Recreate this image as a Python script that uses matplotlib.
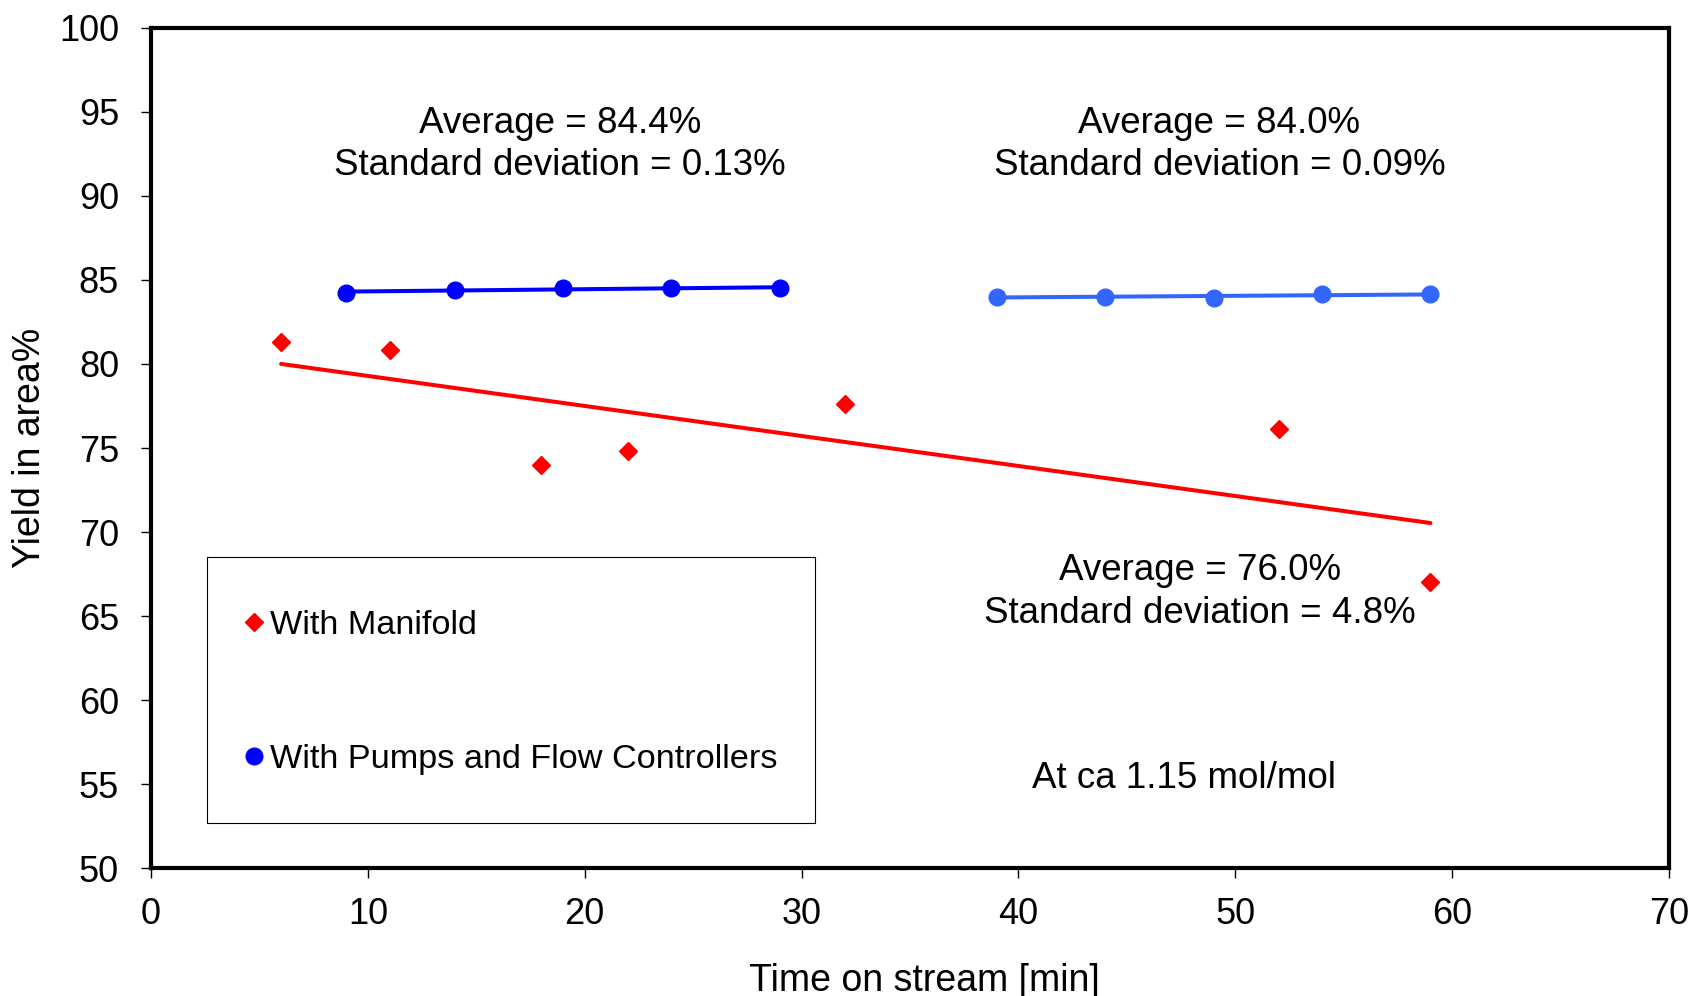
import numpy as np
import matplotlib.pyplot as plt
from matplotlib.patches import Rectangle

plt.rcParams['font.family'] = ['Liberation Sans', 'DejaVu Sans']

# time on stream [min] and yield [area%]
manifold_t = [6, 11, 18, 22, 32, 52, 59]
manifold_y = [81.3, 80.85, 74.0, 74.85, 77.6, 76.15, 67.05]

pumps1_t = [9, 14, 19, 24, 29]
pumps1_y = [84.25, 84.4, 84.5, 84.55, 84.5]

pumps2_t = [39, 44, 49, 54, 59]
pumps2_y = [84.0, 84.0, 83.95, 84.15, 84.15]

red = '#FF0000'
blue = '#0000FF'
light_blue = '#3366FF'


def trend(ax, t, y, color):
    k, b = np.polyfit(t, y, 1)
    xs = np.array([min(t), max(t)])
    ax.plot(xs, k * xs + b, color=color, lw=2.9, solid_capstyle='round', zorder=2)


fig = plt.figure(figsize=(16.92, 9.96), dpi=100)
ax = fig.add_axes([151 / 1692, 1 - 868 / 996, 1518 / 1692, 840 / 996])

trend(ax, manifold_t, manifold_y, red)
trend(ax, pumps1_t, pumps1_y, blue)
trend(ax, pumps2_t, pumps2_y, light_blue)

ax.plot(manifold_t, manifold_y, 'D', color=red, ms=9, ls='none', label='With Manifold', zorder=3)
ax.plot(pumps1_t, pumps1_y, 'o', color=blue, ms=12, ls='none',
        label='With Pumps and Flow Controllers', zorder=3)
ax.plot(pumps2_t, pumps2_y, 'o', color=light_blue, ms=12, ls='none', zorder=3)

ax.set_xlim(0, 70)
ax.set_ylim(50, 100)
ax.set_xticks(range(0, 71, 10))
ax.set_yticks(range(50, 101, 5))
for s in ax.spines.values():
    s.set_linewidth(3)
ax.tick_params(axis='both', direction='out', length=7, width=1, labelsize=26)
ax.tick_params(axis='y', pad=16)
ax.tick_params(axis='x', pad=14)

ax.set_xlabel('Time on stream [min]', fontsize=27, labelpad=22)
ax.xaxis.label.set_x(0.5094)
ax.set_ylabel('Yield in area%', fontsize=27, labelpad=8)

txt = dict(ha='center', va='center', fontsize=26.5, linespacing=1.28)
ax.text(18.86, 93.06, 'Average = 84.4%\nStandard deviation = 0.13%', **txt)
ax.text(49.27, 93.06, 'Average = 84.0%\nStandard deviation = 0.09%', **txt)
ax.text(48.37, 66.42, 'Average = 76.0%\nStandard deviation = 4.8%', **txt)
ax.text(47.63, 55.33, 'At ca 1.15 mol/mol', **txt)

# legend box
ax.add_patch(Rectangle((0.0369, 0.0536), 0.4005, 0.3167, transform=ax.transAxes,
                       facecolor='white', edgecolor='black', lw=0.8, zorder=4))
leg = ax.legend(loc='upper left', bbox_to_anchor=(0.0665, 0.3071), fontsize=24.7,
                frameon=False, borderpad=0, handlelength=0.1, handletextpad=0.44,
                labelspacing=3.0, borderaxespad=0)
leg.set_zorder(5)

fig.savefig('out.png', dpi=100)
